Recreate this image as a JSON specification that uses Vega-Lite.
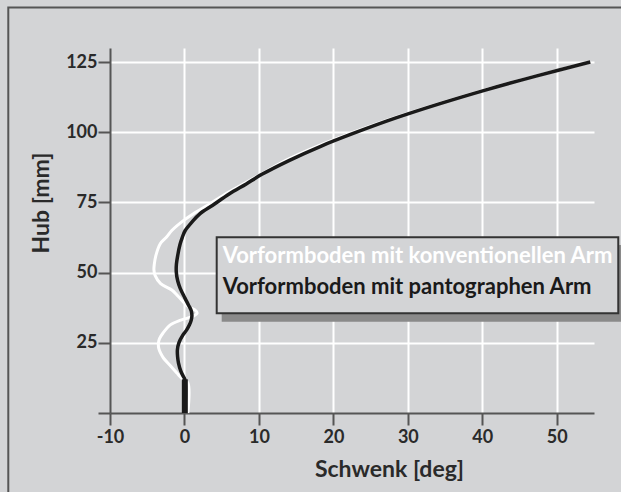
{
  "$schema": "https://vega.github.io/schema/vega-lite/v6.json",
  "width": 484,
  "height": 365,
  "autosize": {"type": "none"},
  "padding": {"left": 110, "top": 48, "right": 27, "bottom": 79},
  "background": "#d3d4d6",
  "config": {
    "view": {"stroke": null},
    "font": "Lato"
  },
  "datasets": {
    "curves": [
      {"series": "konventionell", "Schwenk": 0.45, "Hub": 0},
      {"series": "konventionell", "Schwenk": 0.45, "Hub": 10.8},
      {"series": "konventionell", "Schwenk": -0.2, "Hub": 11.9},
      {"series": "konventionell", "Schwenk": -0.6, "Hub": 13},
      {"series": "konventionell", "Schwenk": -1.0, "Hub": 14.2},
      {"series": "konventionell", "Schwenk": -1.8, "Hub": 16.6},
      {"series": "konventionell", "Schwenk": -2.8, "Hub": 19.5},
      {"series": "konventionell", "Schwenk": -3.2, "Hub": 21.3},
      {"series": "konventionell", "Schwenk": -3.45, "Hub": 23},
      {"series": "konventionell", "Schwenk": -3.5, "Hub": 24.9},
      {"series": "konventionell", "Schwenk": -3.35, "Hub": 26.5},
      {"series": "konventionell", "Schwenk": -2.9, "Hub": 28.4},
      {"series": "konventionell", "Schwenk": -1.9, "Hub": 31.4},
      {"series": "konventionell", "Schwenk": -0.5, "Hub": 33.1},
      {"series": "konventionell", "Schwenk": 1.2, "Hub": 34.5},
      {"series": "konventionell", "Schwenk": 1.7, "Hub": 35.6},
      {"series": "konventionell", "Schwenk": 1.4, "Hub": 36.7},
      {"series": "konventionell", "Schwenk": 0.55, "Hub": 37.8},
      {"series": "konventionell", "Schwenk": -0.3, "Hub": 40},
      {"series": "konventionell", "Schwenk": -1.0, "Hub": 42},
      {"series": "konventionell", "Schwenk": -1.7, "Hub": 43.8},
      {"series": "konventionell", "Schwenk": -3.2, "Hub": 46.1},
      {"series": "konventionell", "Schwenk": -3.95, "Hub": 49},
      {"series": "konventionell", "Schwenk": -4.1, "Hub": 51},
      {"series": "konventionell", "Schwenk": -4.05, "Hub": 53},
      {"series": "konventionell", "Schwenk": -3.85, "Hub": 56},
      {"series": "konventionell", "Schwenk": -3.25, "Hub": 60.3},
      {"series": "konventionell", "Schwenk": -2.4, "Hub": 62.7},
      {"series": "konventionell", "Schwenk": -1.7, "Hub": 65},
      {"series": "konventionell", "Schwenk": -0.1, "Hub": 68.6},
      {"series": "konventionell", "Schwenk": 1.2, "Hub": 71},
      {"series": "konventionell", "Schwenk": 3.1, "Hub": 74},
      {"series": "konventionell", "Schwenk": 5.5, "Hub": 78},
      {"series": "konventionell", "Schwenk": 8.2, "Hub": 82},
      {"series": "konventionell", "Schwenk": 10.9, "Hub": 86},
      {"series": "konventionell", "Schwenk": 13.6, "Hub": 90},
      {"series": "konventionell", "Schwenk": 17.8, "Hub": 95},
      {"series": "konventionell", "Schwenk": 22.7, "Hub": 100},
      {"series": "konventionell", "Schwenk": 28.0, "Hub": 105},
      {"series": "konventionell", "Schwenk": 33.9, "Hub": 110},
      {"series": "konventionell", "Schwenk": 40.2, "Hub": 115},
      {"series": "konventionell", "Schwenk": 47.1, "Hub": 120},
      {"series": "konventionell", "Schwenk": 54.5, "Hub": 125},
      {"series": "pantograph", "Schwenk": 0.05, "Hub": 0},
      {"series": "pantograph", "Schwenk": 0.05, "Hub": 12},
      {"series": "pantograph", "Schwenk": -0.15, "Hub": 13},
      {"series": "pantograph", "Schwenk": -0.5, "Hub": 15},
      {"series": "pantograph", "Schwenk": -0.8, "Hub": 17.8},
      {"series": "pantograph", "Schwenk": -0.92, "Hub": 20},
      {"series": "pantograph", "Schwenk": -0.95, "Hub": 22.5},
      {"series": "pantograph", "Schwenk": -0.75, "Hub": 25},
      {"series": "pantograph", "Schwenk": -0.2, "Hub": 27.8},
      {"series": "pantograph", "Schwenk": 0.3, "Hub": 29.6},
      {"series": "pantograph", "Schwenk": 0.67, "Hub": 31.4},
      {"series": "pantograph", "Schwenk": 0.9, "Hub": 33},
      {"series": "pantograph", "Schwenk": 1.0, "Hub": 34.6},
      {"series": "pantograph", "Schwenk": 0.9, "Hub": 36.5},
      {"series": "pantograph", "Schwenk": 0.55, "Hub": 38.4},
      {"series": "pantograph", "Schwenk": 0.05, "Hub": 41},
      {"series": "pantograph", "Schwenk": -0.57, "Hub": 44.4},
      {"series": "pantograph", "Schwenk": -0.9, "Hub": 47},
      {"series": "pantograph", "Schwenk": -1.1, "Hub": 50.3},
      {"series": "pantograph", "Schwenk": -1.08, "Hub": 53},
      {"series": "pantograph", "Schwenk": -0.9, "Hub": 56.2},
      {"series": "pantograph", "Schwenk": -0.6, "Hub": 60},
      {"series": "pantograph", "Schwenk": -0.3, "Hub": 62.5},
      {"series": "pantograph", "Schwenk": 0.1, "Hub": 65},
      {"series": "pantograph", "Schwenk": 1.0, "Hub": 68},
      {"series": "pantograph", "Schwenk": 2.1, "Hub": 71},
      {"series": "pantograph", "Schwenk": 3.8, "Hub": 74},
      {"series": "pantograph", "Schwenk": 6.0, "Hub": 78},
      {"series": "pantograph", "Schwenk": 8.3, "Hub": 81.6},
      {"series": "pantograph", "Schwenk": 10.4, "Hub": 85},
      {"series": "pantograph", "Schwenk": 14.1, "Hub": 90},
      {"series": "pantograph", "Schwenk": 18.3, "Hub": 95},
      {"series": "pantograph", "Schwenk": 23.1, "Hub": 100},
      {"series": "pantograph", "Schwenk": 28.3, "Hub": 105},
      {"series": "pantograph", "Schwenk": 34.1, "Hub": 110},
      {"series": "pantograph", "Schwenk": 40.4, "Hub": 115},
      {"series": "pantograph", "Schwenk": 47.2, "Hub": 120},
      {"series": "pantograph", "Schwenk": 54.5, "Hub": 125}
    ]
  },
  "layer": [
    {
      "data": {"name": "curves"},
      "encoding": {
        "x": {
          "field": "Schwenk",
          "type": "quantitative",
          "scale": {"domain": [-10, 55], "nice": false, "zero": false},
          "axis": {
            "title": "Schwenk [deg]",
            "values": [-10, -5, 0, 5, 10, 15, 20, 25, 30, 35, 40, 45, 50, 55],
            "labelExpr": "datum.value % 10 == 0 ? '' + datum.value : ''",
            "labelFont": "Lato",
            "labelFontWeight": "bold",
            "labelFontSize": 18,
            "labelColor": "#2a2a2a",
            "labelPadding": 3,
            "labelFlush": false,
            "labelOverlap": false,
            "domainColor": "#555555",
            "domainWidth": 2,
            "tickColor": "#555555",
            "tickWidth": 2,
            "tickSize": {"condition": {"test": "datum.value % 10 == 0", "value": 12}, "value": 10},
            "grid": true,
            "gridColor": "#ffffff",
            "gridWidth": 2,
            "gridOpacity": {"condition": {"test": "datum.value % 10 == 0 && datum.value > -10", "value": 1}, "value": 0},
            "titleFont": "Lato",
            "titleFontWeight": "bold",
            "titleFontSize": 23,
            "titleColor": "#2a2a2a",
            "titleX": 279,
            "titleY": 63.5,
            "titleBaseline": "alphabetic",
            "titleAnchor": null
          }
        },
        "y": {
          "field": "Hub",
          "type": "quantitative",
          "scale": {"domain": [0, 130], "nice": false, "zero": false},
          "axis": {
            "title": "Hub [mm]",
            "values": [0, 12.5, 25, 37.5, 50, 62.5, 75, 87.5, 100, 112.5, 125],
            "labelExpr": "datum.value % 25 == 0 && datum.value > 0 ? '' + datum.value : ''",
            "labelFont": "Lato",
            "labelFontWeight": "bold",
            "labelFontSize": 18,
            "labelColor": "#2a2a2a",
            "labelPadding": 1,
            "labelFlush": false,
            "labelOverlap": false,
            "domainColor": "#555555",
            "domainWidth": 2,
            "tickColor": "#555555",
            "tickWidth": 2,
            "tickSize": {"condition": {"test": "datum.value % 25 == 0", "value": 12}, "value": 7},
            "grid": true,
            "gridColor": "#ffffff",
            "gridWidth": 2,
            "gridOpacity": {"condition": {"test": "datum.value % 25 == 0 && datum.value > 0", "value": 1}, "value": 0},
            "titleFont": "Lato",
            "titleFontWeight": "bold",
            "titleFontSize": 23,
            "titleColor": "#2a2a2a",
            "titleX": -61.5,
            "titleY": 154.5,
            "titleAngle": -90,
            "titleBaseline": "alphabetic",
            "titleAnchor": null
          }
        },
        "order": {"field": "Hub", "type": "quantitative"}
      },
      "layer": [
        {
          "transform": [{"filter": "datum.series == 'konventionell'"}],
          "mark": {"type": "line", "color": "#ffffff", "strokeWidth": 3, "interpolate": "catmull-rom", "clip": false}
        },
        {
          "transform": [{"filter": "datum.series == 'pantograph'"}],
          "mark": {"type": "line", "color": "#1a1a1a", "strokeWidth": 3.5, "interpolate": "catmull-rom", "clip": false}
        },
        {
          "transform": [{"filter": "datum.series == 'pantograph' && datum.Hub <= 12"}],
          "mark": {"type": "line", "color": "#1a1a1a", "strokeWidth": 6, "clip": false}
        }
      ]
    },
    {
      "data": {"values": [{}]},
      "mark": {"type": "rect", "fill": "transparent", "stroke": "#555555", "strokeWidth": 2, "clip": false},
      "encoding": {
        "x": {"datum": -23.66, "type": "quantitative"},
        "x2": {"datum": 80},
        "y": {"datum": 144.4, "type": "quantitative"},
        "y2": {"datum": -50}
      }
    },
    {
      "data": {"values": [{}]},
      "mark": {"type": "rect", "fill": "#8a8a8a", "clip": false},
      "encoding": {
        "x": {"datum": 5.0, "type": "quantitative"},
        "x2": {"datum": 60},
        "y": {"datum": 59.8, "type": "quantitative"},
        "y2": {"datum": 32.5}
      }
    },
    {
      "data": {"values": [{}]},
      "mark": {"type": "rect", "fill": "#d3d4d6", "stroke": "#333333", "strokeWidth": 2, "clip": false},
      "encoding": {
        "x": {"datum": 4.33, "type": "quantitative"},
        "x2": {"datum": 58.26},
        "y": {"datum": 62.58, "type": "quantitative"},
        "y2": {"datum": 35.51}
      }
    },
    {
      "data": {"values": [{}]},
      "mark": {"type": "text", "align": "left", "baseline": "alphabetic", "font": "Lato", "fontWeight": "bold", "fontSize": 22, "color": "#ffffff", "clip": false},
      "encoding": {
        "x": {"datum": 5.13, "type": "quantitative"},
        "y": {"datum": 53.3, "type": "quantitative"},
        "text": {"value": "Vorformboden mit konventionellen Arm"}
      }
    },
    {
      "data": {"values": [{}]},
      "mark": {"type": "text", "align": "left", "baseline": "alphabetic", "font": "Lato", "fontWeight": "bold", "fontSize": 22, "color": "#1a1a1a", "clip": false},
      "encoding": {
        "x": {"datum": 5.13, "type": "quantitative"},
        "y": {"datum": 42.4, "type": "quantitative"},
        "text": {"value": "Vorformboden mit pantographen Arm"}
      }
    }
  ]
}
